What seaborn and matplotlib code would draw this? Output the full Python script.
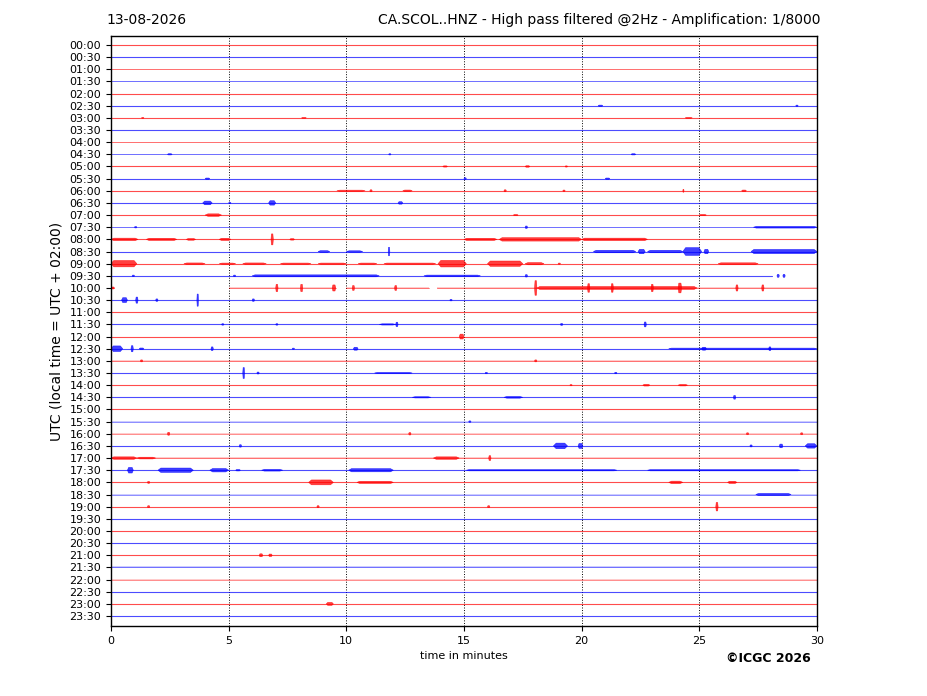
import matplotlib
matplotlib.use("Agg")
import matplotlib.pyplot as plt
import numpy as np
import pandas as pd
import seaborn as sns

# half-hour rows of the helicorder, 00:00 .. 23:30
row_labels = [f"{h:02d}:{m:02d}" for h in range(24) for m in (0, 30)]
row_colors = ["red" if i % 2 == 0 else "blue" for i in range(len(row_labels))]

# background noise level of every row (in row heights)
noise_level = [0.03, 0.03, 0.05, 0.07, 0.03, 0.03, 0.03, 0.03, 0.05, 0.06,
               0.03, 0.03, 0.03, 0.03, 0.03, 0.05, 0.03, 0.03, 0.03, 0.03,
               0.05, 0.03, 0.03, 0.03, 0.03, 0.03, 0.08, 0.03, 0.03, 0.03,
               0.03, 0.05, 0.05, 0.03, 0.05, 0.03, 0.03, 0.05, 0.03, 0.03,
               0.04, 0.03, 0.03, 0.08, 0.06, 0.03, 0.03, 0.03]

# rows where the trace has gaps: row -> list of (start, end) minutes with data
trace_spans = {
    19: [(0.0, 28.1)],
    20: [(0.0, 0.15), (5.0, 9.55), (10.0, 13.5), (13.85, 30.0)],
}

# seismic bursts: (row, start min, end min, half amplitude in rows)
events = [
    (5, 20.7, 20.9, 0.05), (5, 29.1, 29.2, 0.05),
    (6, 1.3, 1.4, 0.04), (6, 8.1, 8.3, 0.04), (6, 24.4, 24.7, 0.04),
    (9, 2.4, 2.6, 0.05), (9, 11.8, 11.9, 0.05), (9, 22.1, 22.3, 0.05),
    (10, 14.1, 14.3, 0.05), (10, 17.6, 17.8, 0.06), (10, 19.3, 19.4, 0.05),
    (11, 4.0, 4.2, 0.05), (11, 15.0, 15.1, 0.07), (11, 21.0, 21.2, 0.05),
    (12, 9.6, 10.8, 0.05), (12, 11.0, 11.1, 0.08), (12, 12.4, 12.8, 0.06),
    (12, 16.7, 16.8, 0.08), (12, 19.2, 19.3, 0.06), (12, 24.3, 24.35, 0.12),
    (12, 26.8, 27.0, 0.06),
    (13, 3.9, 4.3, 0.15), (13, 5.0, 5.1, 0.05), (13, 6.7, 7.0, 0.18), (13, 12.2, 12.4, 0.1),
    (14, 4.0, 4.7, 0.1), (14, 17.1, 17.3, 0.05), (14, 25.0, 25.3, 0.05),
    (15, 1.0, 1.1, 0.06), (15, 17.6, 17.7, 0.1), (15, 27.3, 30.0, 0.07),
    (16, 0.0, 1.15, 0.1), (16, 1.5, 2.8, 0.09), (16, 3.2, 3.6, 0.07), (16, 4.6, 5.1, 0.09),
    (16, 6.8, 6.9, 0.45), (16, 7.6, 7.8, 0.06), (16, 15.0, 16.4, 0.09), (16, 16.5, 20.0, 0.14),
    (16, 20.0, 22.8, 0.1),
    (17, 8.8, 9.3, 0.07), (17, 10.0, 10.7, 0.06), (17, 11.78, 11.85, 0.35),
    (17, 20.5, 22.3, 0.1), (17, 22.4, 22.7, 0.18), (17, 22.8, 24.3, 0.1),
    (17, 24.3, 25.1, 0.32), (17, 25.2, 25.4, 0.18), (17, 27.2, 30.0, 0.17),
    (18, 0.0, 1.1, 0.26), (18, 3.1, 4.0, 0.06), (18, 4.6, 5.3, 0.05), (18, 5.6, 6.6, 0.06),
    (18, 7.2, 8.5, 0.05), (18, 8.8, 10.0, 0.05), (18, 10.5, 11.3, 0.05), (18, 11.6, 13.8, 0.05),
    (18, 13.9, 15.1, 0.27), (18, 16.0, 17.5, 0.22), (18, 17.6, 18.4, 0.09), (18, 19.0, 19.1, 0.05),
    (18, 25.8, 27.5, 0.07),
    (19, 0.9, 1.0, 0.06), (19, 5.2, 5.3, 0.06), (19, 6.0, 11.4, 0.08), (19, 13.3, 15.7, 0.06),
    (19, 17.6, 17.7, 0.1), (19, 28.3, 28.4, 0.12), (19, 28.55, 28.65, 0.12),
    (20, 0.0, 0.15, 0.08), (20, 7.0, 7.1, 0.3), (20, 8.05, 8.15, 0.3), (20, 9.4, 9.55, 0.25),
    (20, 10.25, 10.35, 0.2), (20, 12.05, 12.15, 0.2), (20, 18.0, 18.1, 0.6),
    (20, 18.1, 24.9, 0.12), (20, 20.25, 20.35, 0.35), (20, 21.25, 21.35, 0.35),
    (20, 22.95, 23.05, 0.3), (20, 24.1, 24.25, 0.4), (20, 26.55, 26.65, 0.25),
    (20, 27.65, 27.75, 0.25),
    (21, 0.45, 0.7, 0.2), (21, 1.05, 1.15, 0.25), (21, 1.9, 2.0, 0.1), (21, 3.65, 3.72, 0.5),
    (21, 6.0, 6.1, 0.1), (21, 14.4, 14.5, 0.06),
    (23, 4.7, 4.8, 0.06), (23, 7.0, 7.1, 0.06), (23, 11.4, 12.1, 0.05), (23, 12.1, 12.2, 0.18),
    (23, 19.1, 19.2, 0.08), (23, 22.65, 22.75, 0.2),
    (24, 14.8, 15.0, 0.2),
    (25, 0.0, 0.5, 0.23), (25, 0.85, 0.95, 0.25), (25, 1.2, 1.4, 0.06), (25, 4.25, 4.35, 0.15),
    (25, 7.7, 7.8, 0.05), (25, 10.3, 10.5, 0.12), (25, 23.7, 30.0, 0.05), (25, 25.1, 25.3, 0.12),
    (25, 27.95, 28.05, 0.15),
    (26, 1.25, 1.35, 0.08), (26, 18.0, 18.1, 0.08),
    (27, 5.6, 5.68, 0.45), (27, 6.2, 6.3, 0.08), (27, 11.2, 12.8, 0.05), (27, 15.9, 16.0, 0.06),
    (27, 21.4, 21.5, 0.06),
    (28, 19.5, 19.6, 0.05), (28, 22.6, 22.9, 0.07), (28, 24.1, 24.5, 0.06),
    (29, 12.8, 13.6, 0.05), (29, 16.7, 17.5, 0.07), (29, 26.45, 26.55, 0.15),
    (31, 15.2, 15.3, 0.06),
    (32, 2.4, 2.5, 0.12), (32, 12.65, 12.75, 0.1), (32, 27.0, 27.1, 0.08), (32, 29.3, 29.4, 0.08),
    (33, 5.45, 5.55, 0.1), (33, 18.8, 19.4, 0.23), (33, 19.85, 20.05, 0.2), (33, 27.15, 27.25, 0.08),
    (33, 28.4, 28.55, 0.15), (33, 29.5, 30.0, 0.18),
    (34, 0.0, 1.1, 0.1), (34, 1.1, 1.9, 0.07), (34, 13.7, 14.8, 0.1), (34, 16.05, 16.15, 0.2),
    (35, 0.7, 0.95, 0.23), (35, 2.0, 3.5, 0.18), (35, 4.2, 5.0, 0.14), (35, 5.3, 5.5, 0.06),
    (35, 6.4, 7.3, 0.07), (35, 10.1, 12.0, 0.13), (35, 15.1, 21.5, 0.05), (35, 22.8, 29.3, 0.05),
    (36, 1.55, 1.65, 0.08), (36, 8.4, 9.45, 0.2), (36, 10.45, 12.0, 0.09), (36, 23.7, 24.3, 0.1),
    (36, 26.2, 26.6, 0.09),
    (37, 27.4, 28.9, 0.09),
    (38, 1.55, 1.65, 0.08), (38, 8.75, 8.85, 0.08), (38, 16.0, 16.1, 0.08), (38, 25.7, 25.8, 0.35),
    (42, 6.3, 6.45, 0.12), (42, 6.7, 6.85, 0.1),
    (46, 9.15, 9.45, 0.12),
]

x_ticks = [0, 5, 10, 15, 20, 25, 30]

sns.set_style("ticks", {"axes.edgecolor": "black", "text.color": "black",
                        "axes.labelcolor": "black", "xtick.color": "black",
                        "ytick.color": "black"})
plt.rcParams['font.family'] = ['DejaVu Sans']

fig = plt.figure(figsize=(9.27, 6.96), dpi=100)
ax = fig.add_axes([0.1197, 0.1006, 0.7616, 0.8477])

# baselines, long form for seaborn
recs = []
seg = 0
for i, lab in enumerate(row_labels):
    spans = trace_spans.get(i, [(0.0, 30.0)])
    for s, e in spans:
        for x in (s, e):
            recs.append({"minute": x, "pos": i, "seg": seg, "color": row_colors[i],
                         "noisy": noise_level[i] > 0.04})
        seg += 1
traces = pd.DataFrame(recs)

palette = {"red": "#ff0000", "blue": "#0000ff"}
quiet = traces[~traces["noisy"]]
noisy = traces[traces["noisy"]]
sns.lineplot(data=quiet, x="minute", y="pos", units="seg", estimator=None, hue="color",
             palette=palette, legend=False, lw=0.8, alpha=0.7, ax=ax)
sns.lineplot(data=noisy, x="minute", y="pos", units="seg", estimator=None, hue="color",
             palette=palette, legend=False, lw=0.7, alpha=0.45, ax=ax)

# noise band of the noisier rows
for i, lab in enumerate(row_labels):
    if noise_level[i] > 0.04:
        for s, e in trace_spans.get(i, [(0.0, 30.0)]):
            ax.fill_between([s, e], i - noise_level[i], i + noise_level[i],
                            color=palette[row_colors[i]], alpha=0.2, lw=0)

# bursts drawn as tapered bands
for r, s, e, a in events:
    t = min(0.2 * (e - s), 0.12)
    xs = [s, s + t, e - t, e, e - t, s + t]
    ys = [r, r - a, r - a, r, r + a, r + a]
    ax.fill(xs, ys, color=palette[row_colors[r]], alpha=0.75, lw=0.4)

for xv in x_ticks[1:-1]:
    ax.axvline(xv, color="black", ls=":", lw=0.7, zorder=0)

ax.set_xlim(0, 30)
ax.set_ylim(47.82, -0.74)
ax.set_xticks(x_ticks)
ax.set_yticks(range(len(row_labels)))
ax.set_yticklabels(row_labels)
ax.tick_params(labelsize=8, color="black", labelcolor="black")
ax.set_xlabel("time in minutes", fontsize=8)
ax.set_ylabel("UTC (local time = UTC + 02:00)", fontsize=10)
for sp in ax.spines.values():
    sp.set_visible(True)
    sp.set_color("black")
    sp.set_linewidth(1.0)

fig.text(106 / 927, 1 - 20 / 696, "13-08-2026", fontsize=10, va="center", ha="left")
fig.text(821 / 927, 1 - 20 / 696,
         "CA.SCOL..HNZ - High pass filtered @2Hz - Amplification: 1/8000",
         fontsize=10, va="center", ha="right")
fig.text(811 / 927, 1 - 659 / 696, "\u00a9ICGC 2026", fontsize=9, fontweight="bold",
         va="center", ha="right")

fig.savefig("out.png", dpi=100)
